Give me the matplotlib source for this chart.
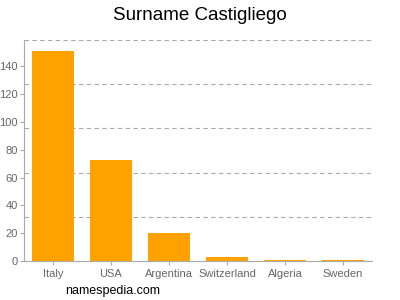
import matplotlib
matplotlib.use("Agg")
from matplotlib import pyplot as plt
import numpy as np

plt.rcParams["font.family"] = ["Liberation Sans", "DejaVu Sans"]

countries = ["Italy", "USA", "Argentina", "Switzerland", "Algeria", "Sweden"]
counts = [151, 73, 20, 3, 1, 1]
y_ticks = [0, 20, 40, 60, 80, 100, 120, 140]
y_max = 159

fig = plt.figure(figsize=(4, 3), dpi=100)
ax = fig.add_axes([0.06, 0.13, 0.87, 0.7367])

x = np.arange(len(countries))
ax.bar(x, counts, width=0.74, color="#ffa200", zorder=2)

ax.set_xlim(-0.5, len(countries) - 0.5)
ax.set_ylim(0, y_max)
ax.set_xticks(x)
ax.set_xticklabels(countries)
ax.set_yticks(y_ticks)

# gridlines sit at fifths of the axis, not on the ticks
for k in range(1, 6):
    ax.axhline(y_max * k / 5, color="#aaaaaa", linestyle=(0, (4, 3)), linewidth=0.8, zorder=1)

for side in ["top", "right"]:
    ax.spines[side].set_visible(False)
for side in ["left", "bottom"]:
    ax.spines[side].set_color("#aaaaaa")
    ax.spines[side].set_linewidth(0.8)

ax.tick_params(axis="both", colors="#aaaaaa", length=3, width=0.8, labelsize=8, pad=1.5)
ax.tick_params(axis="x", pad=3)
for lbl in ax.get_xticklabels() + ax.get_yticklabels():
    lbl.set_color("#666666")

fig.text(0.5, 0.95, "Surname Castigliego", ha="center", va="center", fontsize=13.5)
fig.text(0.163, 0.03, "namespedia.com", ha="left", va="center", fontsize=9)

fig.savefig("out.png", dpi=100)
